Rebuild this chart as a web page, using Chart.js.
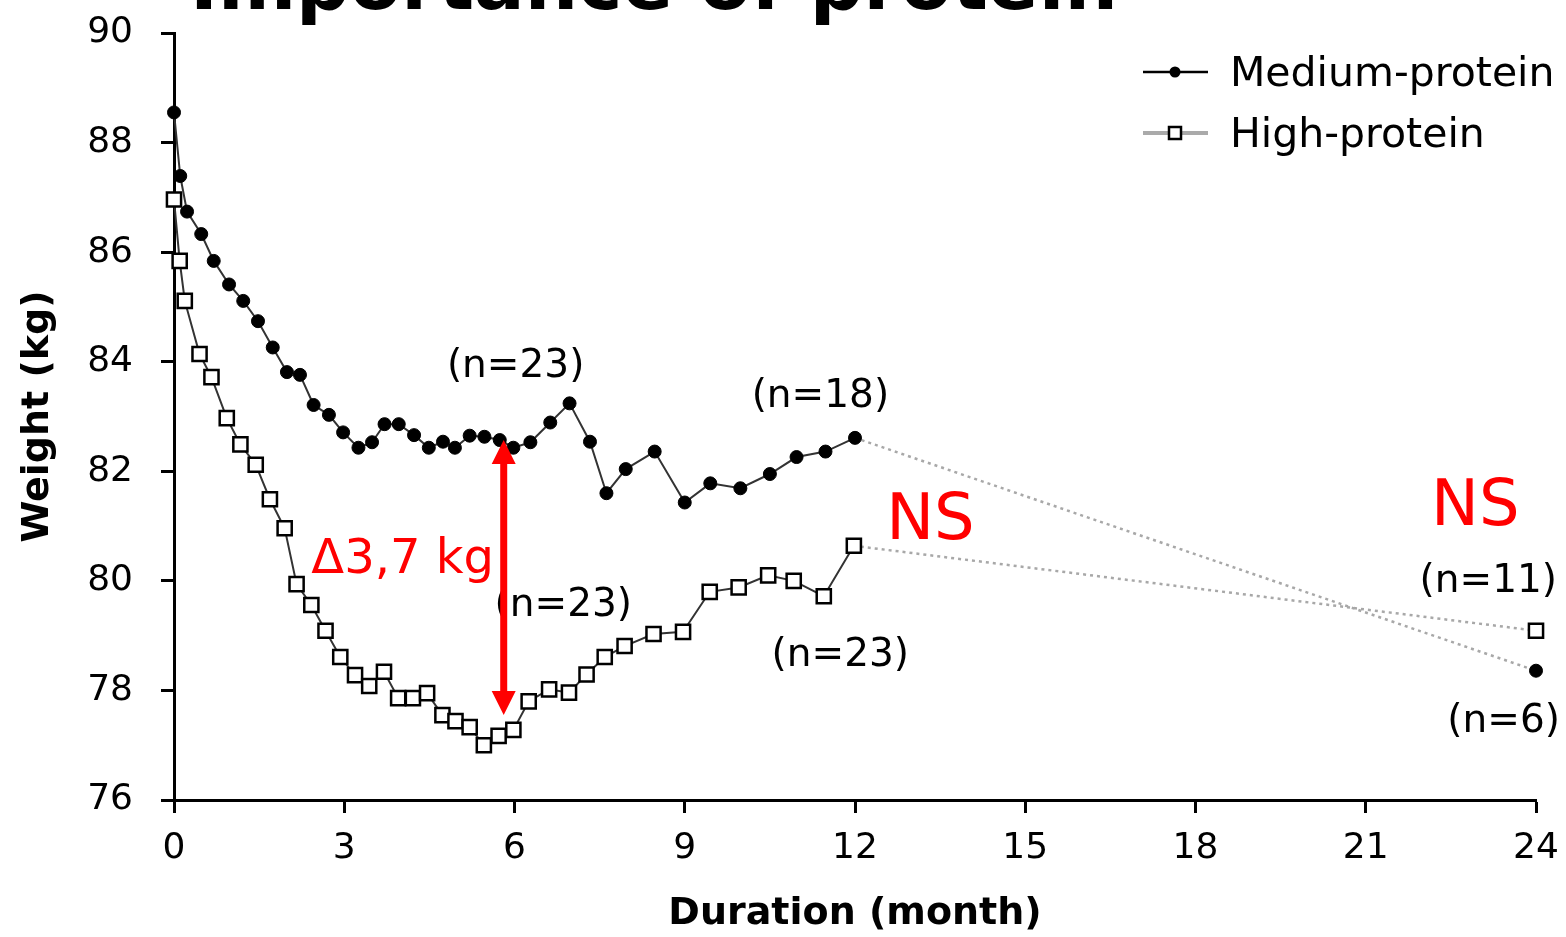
<!DOCTYPE html>
<html>
<head>
<meta charset="utf-8">
<script src="https://cdn.jsdelivr.net/npm/chart.js@4/dist/chart.umd.min.js"></script>
<style>
  html, body { margin: 0; padding: 0; background: #ffffff; }
  #wrap { width: 1566px; height: 937px; position: relative; }
</style>
</head>
<body>
<div id="wrap"><canvas id="c" width="1566" height="937"></canvas></div>
<script>
// ---------- data ----------
const titleText = 'Importance of protein';
const xAxisTitle = 'Duration (month)';
const yAxisTitle = 'Weight (kg)';
const xTickValues = [0, 3, 6, 9, 12, 15, 18, 21, 24];
const yTickValues = [76, 78, 80, 82, 84, 86, 88, 90];

const seriesNames = ['Medium-protein', 'High-protein'];

const mediumMonths = [0, 0.11, 0.23, 0.48, 0.70, 0.97, 1.22, 1.48, 1.74, 1.99,
  2.22, 2.46, 2.73, 2.98, 3.25, 3.49, 3.71, 3.96, 4.23, 4.49,
  4.74, 4.95, 5.21, 5.47, 5.74, 5.98, 6.28, 6.63, 6.97, 7.33,
  7.62, 7.96, 8.47, 9.0, 9.45, 9.98, 10.5, 10.97, 11.48, 12, 24];
const mediumWeight = [88.55, 87.39, 86.74, 86.33, 85.84, 85.41, 85.11, 84.74, 84.26, 83.81,
  83.76, 83.21, 83.03, 82.71, 82.43, 82.53, 82.86, 82.86, 82.66, 82.43,
  82.54, 82.43, 82.65, 82.63, 82.57, 82.43, 82.53, 82.89, 83.24, 82.54,
  81.60, 82.04, 82.36, 81.43, 81.78, 81.69, 81.95, 82.26, 82.36, 82.61, 78.36];

const highMonths = [0, 0.10, 0.19, 0.45, 0.66, 0.93, 1.17, 1.44, 1.69, 1.95,
  2.16, 2.42, 2.67, 2.93, 3.19, 3.44, 3.70, 3.95, 4.21, 4.46,
  4.73, 4.96, 5.21, 5.46, 5.72, 5.98, 6.25, 6.61, 6.96, 7.27,
  7.59, 7.94, 8.45, 8.97, 9.44, 9.95, 10.47, 10.92, 11.45, 11.98, 24];
const highWeight = [86.96, 85.84, 85.11, 84.14, 83.72, 82.97, 82.49, 82.12, 81.49, 80.96,
  79.94, 79.56, 79.09, 78.61, 78.28, 78.08, 78.34, 77.86, 77.86, 77.95,
  77.55, 77.44, 77.33, 77.00, 77.17, 77.28, 77.80, 78.02, 77.96, 78.29,
  78.61, 78.81, 79.03, 79.07, 79.80, 79.88, 80.10, 80.00, 79.72, 80.64, 79.09];

// annotation texts anchored in data units
const noteLabels  = ['(n=23)', '(n=18)', '(n=23)', '(n=23)', '(n=11)', '(n=6)'];
const noteMonths  = [6.02, 11.39, 6.86, 11.74, 23.16, 23.43];
const noteWeights = [83.90, 83.36, 79.54, 78.63, 79.98, 77.42];

const redLabels  = ['NS', 'NS', 'Δ3,7 kg'];
const redMonths  = [13.33, 22.93, 4.03];
const redWeights = [81.06, 81.33, 80.38];

const arrowMonth = 5.81;
const arrowFrom = 82.57;
const arrowTo = 77.55;

// ---------- build ----------
const FONT = '"DejaVu Sans", "Liberation Sans", sans-serif';
const toPts = (xs, ys) => xs.map((v, i) => ({ x: v, y: ys[i] }));
const lastIdx = mediumMonths.length - 1;

const segStyle = {
  borderColor: ctx => ctx.p1DataIndex === lastIdx ? '#a8a8a8' : '#333333',
  borderDash: ctx => ctx.p1DataIndex === lastIdx ? [3, 4] : [],
  borderWidth: ctx => ctx.p1DataIndex === lastIdx ? 2.5 : 2
};

const overlay = {
  id: 'overlay',
  afterDatasetsDraw(chart) {
    const { ctx, scales: { x, y } } = chart;
    ctx.save();
    ctx.textAlign = 'center';
    ctx.textBaseline = 'middle';
    ctx.fillStyle = '#000';
    ctx.font = '39px ' + FONT;
    noteLabels.forEach((t, i) => {
      ctx.fillText(t, x.getPixelForValue(noteMonths[i]), y.getPixelForValue(noteWeights[i]));
    });
    ctx.fillStyle = '#ff0000';
    redLabels.forEach((t, i) => {
      ctx.font = (t === 'NS' ? '64px ' : '48px ') + FONT;
      ctx.fillText(t, x.getPixelForValue(redMonths[i]), y.getPixelForValue(redWeights[i]));
    });
    // double-headed arrow
    const ax = x.getPixelForValue(arrowMonth);
    const y1 = y.getPixelForValue(arrowFrom);
    const y2 = y.getPixelForValue(arrowTo);
    const hh = 24, hw = 12;
    ctx.strokeStyle = '#ff0000';
    ctx.lineWidth = 7;
    ctx.beginPath();
    ctx.moveTo(ax, y1 + hh - 2);
    ctx.lineTo(ax, y2 - hh + 2);
    ctx.stroke();
    ctx.beginPath();
    ctx.moveTo(ax, y1); ctx.lineTo(ax - hw, y1 + hh); ctx.lineTo(ax + hw, y1 + hh); ctx.closePath();
    ctx.fill();
    ctx.beginPath();
    ctx.moveTo(ax, y2); ctx.lineTo(ax - hw, y2 - hh); ctx.lineTo(ax + hw, y2 - hh); ctx.closePath();
    ctx.fill();
    ctx.restore();
  },
  afterDraw(chart) {
    const { ctx } = chart;
    ctx.save();
    // partially visible title (cut off at the top in the original)
    ctx.fillStyle = '#000';
    ctx.font = 'bold 75px ' + FONT;
    ctx.textAlign = 'left';
    ctx.textBaseline = 'alphabetic';
    ctx.fillText(titleText, 190, 9);
    // legend
    const lx1 = 1143, lx2 = 1208, mx = 1175;
    const rows = [72, 133];
    ctx.strokeStyle = '#000'; ctx.lineWidth = 2.5;
    ctx.beginPath(); ctx.moveTo(lx1, rows[0]); ctx.lineTo(lx2, rows[0]); ctx.stroke();
    ctx.fillStyle = '#000';
    ctx.beginPath(); ctx.arc(mx, rows[0], 5.5, 0, Math.PI * 2); ctx.fill();
    ctx.strokeStyle = '#aaaaaa'; ctx.lineWidth = 4;
    ctx.beginPath(); ctx.moveTo(lx1, rows[1]); ctx.lineTo(lx2, rows[1]); ctx.stroke();
    ctx.fillStyle = '#fff'; ctx.strokeStyle = '#000'; ctx.lineWidth = 2.5;
    ctx.fillRect(mx - 6, rows[1] - 6, 12, 12);
    ctx.strokeRect(mx - 6, rows[1] - 6, 12, 12);
    ctx.fillStyle = '#000';
    ctx.font = '41px ' + FONT;
    ctx.textBaseline = 'middle';
    chart.data.datasets.forEach((ds, i) => ctx.fillText(ds.label, 1230, rows[i] + 3));
    ctx.restore();
  }
};

new Chart(document.getElementById('c'), {
  type: 'line',
  data: {
    datasets: [
      {
        label: seriesNames[0],
        data: toPts(mediumMonths, mediumWeight),
        pointStyle: 'circle',
        pointRadius: 6.5,
        pointBackgroundColor: '#000',
        pointBorderColor: '#000',
        pointBorderWidth: 1,
        borderColor: '#333',
        borderWidth: 2,
        segment: segStyle,
        clip: false,
        tension: 0
      },
      {
        label: seriesNames[1],
        data: toPts(highMonths, highWeight),
        pointStyle: 'rect',
        pointRadius: 10,
        pointBackgroundColor: '#fff',
        pointBorderColor: '#000',
        pointBorderWidth: 2.5,
        borderColor: '#333',
        borderWidth: 2,
        segment: segStyle,
        clip: false,
        tension: 0
      }
    ]
  },
  options: {
    responsive: false,
    animation: false,
    devicePixelRatio: 1,
    layout: { padding: { top: 33, right: 30, left: 0, bottom: 0 } },
    plugins: {
      legend: { display: false },
      tooltip: { enabled: false },
      title: { display: false }
    },
    scales: {
      x: {
        type: 'linear',
        min: 0, max: 24,
        afterBuildTicks: s => { s.ticks = xTickValues.map(v => ({ value: v })); },
        afterFit: s => { s.height = 137; s.paddingLeft = 0; s.paddingRight = 0; },
        ticks: { color: '#000', font: { family: FONT, size: 36 }, padding: 14, maxRotation: 0 },
        grid: { drawOnChartArea: false, drawTicks: true, tickLength: 13, tickColor: '#000', tickWidth: 3 },
        border: { display: true, color: '#000', width: 3 },
        title: { display: true, text: xAxisTitle, color: '#000', font: { family: FONT, size: 38, weight: 'bold' }, padding: { top: 0, bottom: 0 } }
      },
      y: {
        type: 'linear',
        min: 76, max: 90,
        afterBuildTicks: s => { s.ticks = yTickValues.map(v => ({ value: v })); },
        afterFit: s => { s.width = 174; s.paddingTop = 0; s.paddingBottom = 0; },
        ticks: { color: '#000', font: { family: FONT, size: 36 }, padding: 28 },
        grid: { drawOnChartArea: false, drawTicks: true, tickLength: 13, tickColor: '#000', tickWidth: 3 },
        border: { display: true, color: '#000', width: 3 },
        title: { display: true, text: yAxisTitle, color: '#000', font: { family: FONT, size: 38, weight: 'bold' }, padding: { top: 15, bottom: 0 } }
      }
    }
  },
  plugins: [overlay]
});
</script>
</body>
</html>
